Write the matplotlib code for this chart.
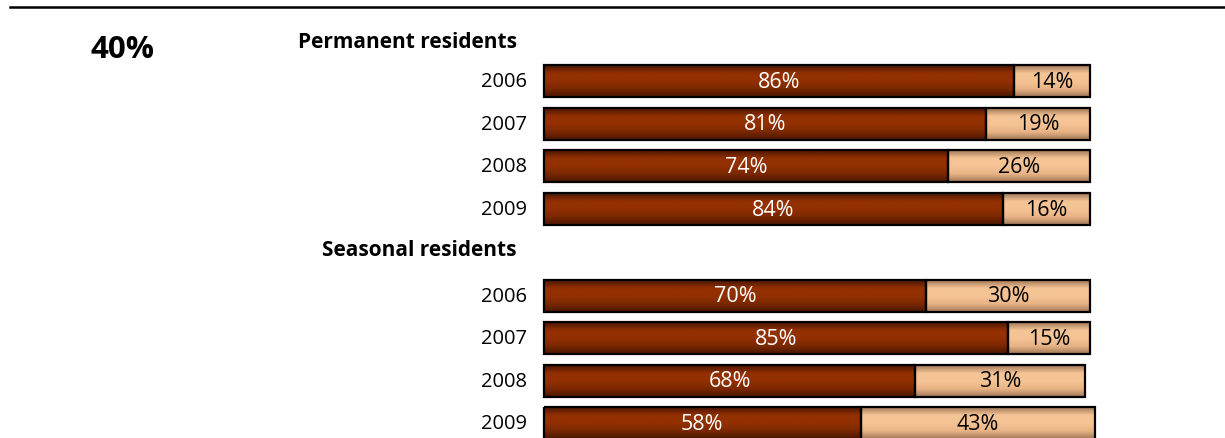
import numpy as np
import matplotlib.pyplot as plt
from matplotlib.lines import Line2D
from matplotlib.colors import LinearSegmentedColormap

years = ['2006', '2007', '2008', '2009']
permanent_yes = [86, 81, 74, 84]
permanent_no = [14, 19, 26, 16]
seasonal_yes = [70, 85, 68, 58]
seasonal_no = [30, 15, 31, 43]

# colour ramps: dark at the bar edges, flat colour in the middle
dark_cmap = LinearSegmentedColormap.from_list('dark', ['#4a1600', '#933000', '#933000', '#7a2800', '#4a1600'])
light_cmap = LinearSegmentedColormap.from_list('light', ['#a07858', '#f5c495', '#f5c495', '#e8b486', '#a07858'])
grad = np.linspace(0, 1, 64).reshape(-1, 1)

W, H = 1225, 438
fig = plt.figure(figsize=(W / 100, H / 100), dpi=100)
ax = fig.add_axes([544 / W, 0, 546 / W, 1])
ax.set_xlim(0, 100)
ax.set_ylim(H, 0)
ax.axis('off')

bar_h = 32
font = 'Open Sans'


def draw_bar(left, width, y, cmap, txt_color):
    bars = ax.barh(y, width, left=left, height=bar_h, color='none',
                   edgecolor='black', linewidth=1.6, clip_on=False, zorder=3)
    b = bars[0]
    im = ax.imshow(grad, cmap=cmap, aspect='auto', zorder=2,
                   extent=(left, left + width, y + bar_h / 2, y - bar_h / 2))
    im.set_clip_path(b)
    im.set_clip_on(True)
    ax.text(left + width / 2, y + 1, f'{width}%', ha='center', va='center',
            color=txt_color, fontsize=15.5, family=font, zorder=4)


def draw_group(y0, step, yes, no):
    for i, yr in enumerate(years):
        y = y0 + step * i
        draw_bar(0, yes[i], y, dark_cmap, 'white')
        draw_bar(yes[i], no[i], y, light_cmap, 'black')
        ax.annotate(yr, (0, y + 1), xytext=(-12, 0), textcoords='offset points',
                    ha='right', va='center', fontsize=14.5, family=font)


draw_group(81, 42.7, permanent_yes, permanent_no)
draw_group(296, 42.4, seasonal_yes, seasonal_no)
ax.set_xlim(0, 100)
ax.set_ylim(H, 0)

fig.text(517 / W, 1 - 42 / H, 'Permanent residents', ha='right', va='center',
         fontsize=15, fontweight='bold', family=font)
fig.text(516 / W, 1 - 251 / H, 'Seasonal residents', ha='right', va='center',
         fontsize=15, fontweight='bold', family=font)
fig.text(90 / W, 1 - 50 / H, '40%', ha='left', va='center',
         fontsize=22.5, fontweight='bold', family=font)

fig.add_artist(Line2D([10 / W, 1], [1 - 7 / H, 1 - 7 / H], color='black', linewidth=1.8))

fig.savefig('out.png', dpi=100)
